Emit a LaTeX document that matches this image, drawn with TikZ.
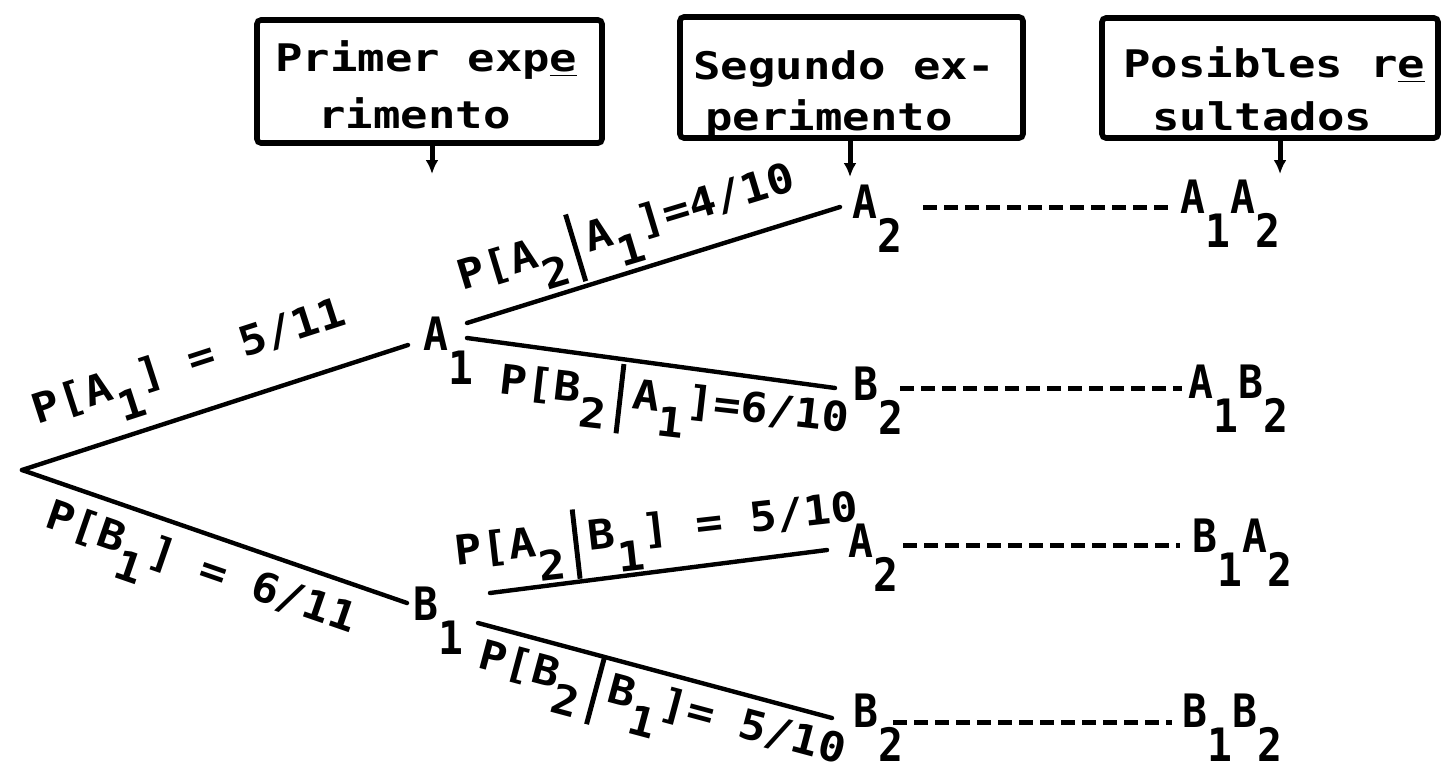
\documentclass[tikz,border=0pt]{standalone}
\usepackage{fontspec}
\usetikzlibrary{arrows.meta}
\newfontfamily\boxfont{DejaVu Sans Mono}[FakeStretch=1.2]
\newfontfamily\lblfont{DejaVu Sans Mono}[FakeStretch=1.1]
\newfontfamily\vtxfont{DejaVu Sans Mono}[FakeStretch=0.9]
\newcommand\vsub[1]{\raisebox{-0.75em}{#1}}
\newcommand\lsub[1]{\raisebox{-0.6em}{#1}}
\newcommand\vbr{\hspace{0.24em}\rule[-0.65em]{0.12em}{1.7em}\hspace{0.24em}}
\begin{document}
\begin{tikzpicture}[x=0.5pt,y=-0.5pt,
  boxst/.style={draw, line width=2.8pt, rounded corners=2pt, inner sep=0pt},
  boxtxt/.style={anchor=base west, inner sep=0pt, font=\boxfont\bfseries\fontsize{19}{22}\selectfont},
  vtx/.style={anchor=base west, inner sep=0pt, font=\vtxfont\bfseries\fontsize{23}{26}\selectfont},
  lbl/.style={anchor=base, inner sep=0pt, font=\lblfont\bfseries\fontsize{20.5}{24}\selectfont},
  branch/.style={line width=2.2pt, line cap=round},
  link/.style={line width=2.5pt, dash pattern=on 7pt off 3.5pt},
  stub/.style={line width=2.5pt, -{Latex[length=7pt,width=6.5pt]}}]
\useasboundingbox (0,0) rectangle (1443,781);

% header boxes
\node[boxst, minimum width=172.5pt, minimum height=61.5pt] (b1) at (429.5,81.5) {};
\node[boxst, minimum width=171.5pt, minimum height=60.5pt] (b2) at (851.5,77.5) {};
\node[boxst, minimum width=168pt, minimum height=60pt] (b3) at (1270,78) {};
\node[boxtxt] (t11) at (275,72) {Primer exp\underline{e}};
\node[boxtxt] (t12) at (318,128) {rimento};
\node[boxtxt] (t21) at (693,80) {Segundo ex-};
\node[boxtxt] (t22) at (705,130) {perimento};
\node[boxtxt] (t31) at (1123,78) {Posibles r\underline{e}};
\node[boxtxt] (t32) at (1152,130) {sultados};

\coordinate (s1) at (432,174);
\coordinate (s2) at (850,177);
\coordinate (s3) at (1280,174);
\draw[stub] (b1.south -| s1) -- (s1);
\draw[stub] (b2.south -| s2) -- (s2);
\draw[stub] (b3.south -| s3) -- (s3);

% tree vertices
\coordinate (root) at (22,470);
\node[vtx] (A1) at (423,350) {A\vsub{1}};
\node[vtx] (B1) at (413,620) {B\vsub{1}};
\node[vtx] (A2a) at (852,218) {A\vsub{2}};
\node[vtx] (B2a) at (853,400) {B\vsub{2}};
\node[vtx] (A2b) at (848,557) {A\vsub{2}};
\node[vtx] (B2b) at (853,727) {B\vsub{2}};

% results
\node[vtx] (r1) at (1180,213) {A\vsub{1}A\vsub{2}};
\node[vtx] (r2) at (1188,398) {A\vsub{1}B\vsub{2}};
\node[vtx] (r3) at (1192,552) {B\vsub{1}A\vsub{2}};
\node[vtx] (r4) at (1182,727) {B\vsub{1}B\vsub{2}};

% connector ends
\coordinate (A1in) at (408,345);
\coordinate (B1in) at (407,603);
\coordinate (A1up) at (467,323);
\coordinate (A1dn) at (467,338);
\coordinate (B1up) at (490,593);
\coordinate (B1dn) at (478,623);
\coordinate (A2ain) at (840,207);
\coordinate (B2ain) at (835,388);
\coordinate (A2bin) at (827,550);
\coordinate (B2bin) at (832,718);

\draw[branch] (root) -- (A1in);
\draw[branch] (root) -- (B1in);
\draw[branch] (A1up) -- (A2ain);
\draw[branch] (A1dn) -- (B2ain);
\draw[branch] (B1up) -- (A2bin);
\draw[branch] (B1dn) -- (B2bin);

% dashed links
\draw[link] (923,207) -- (1175,207);
\draw[link] (900,388) -- (1182,388);
\draw[link] (903,545) -- (1180,545);
\draw[link] (893,722) -- (1172,722);

% branch labels
\node[lbl, rotate=17.9] (l1) at (193,374) {P[A\lsub{1}] = 5/11};
\node[lbl, rotate=-19.1] (l2) at (197,580) {P[B\lsub{1}] = 6/11};
\node[lbl, rotate=16.8] (l3) at (630,240) {P[A\lsub{2}\vbr A\lsub{1}]=4/10};
\node[lbl, rotate=-6.5] (l4) at (673,413) {P[B\lsub{2}\vbr A\lsub{1}]=6/10};
\node[lbl, rotate=6.5] (l5) at (658,543) {P[A\lsub{2}\vbr B\lsub{1}] = 5/10};
\node[lbl, rotate=-15] (l6) at (659,716) {P[B\lsub{2}\vbr B\lsub{1}]= 5/10};
\end{tikzpicture}
\end{document}
